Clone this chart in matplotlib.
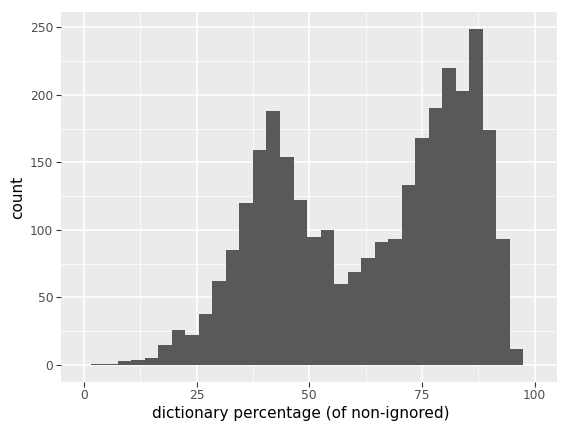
import matplotlib
matplotlib.use("Agg")
import matplotlib.pyplot as plt
from matplotlib.ticker import MultipleLocator

# Histogram data
bin_start = 1.5
bin_width = 3.0
counts = [1, 1, 3, 4, 5, 15, 26, 22, 38, 62, 85, 120, 159, 188, 154, 122,
          95, 100, 60, 69, 79, 91, 93, 133, 168, 190, 220, 203, 249, 174, 93, 12]
x_ticks = [0, 25, 50, 75, 100]
y_ticks = [0, 50, 100, 150, 200, 250]

fig = plt.figure(figsize=(5.7, 4.33), dpi=100)
ax = fig.add_axes([61/570, 1 - 381.7/433, (556.7-61)/570, (381.7-12.3)/433])
ax.set_facecolor("#EBEBEB")
for s in ax.spines.values():
    s.set_visible(False)

lefts = [bin_start + i * bin_width for i in range(len(counts))]
ax.bar(lefts, counts, width=bin_width, align="edge", color="#595959", linewidth=0, zorder=3)

ax.set_xlim(-5.1, 104.9)
ax.set_ylim(-12.4, 261.1)
ax.set_xticks(x_ticks)
ax.set_yticks(y_ticks)
ax.xaxis.set_minor_locator(MultipleLocator(12.5))
ax.yaxis.set_minor_locator(MultipleLocator(25))
ax.grid(which="major", color="white", linewidth=1.1, zorder=0)
ax.grid(which="minor", color="white", linewidth=0.55, zorder=0)
ax.set_axisbelow(True)
ax.tick_params(which="major", length=3.5, width=0.8, color="#333333", labelcolor="#4D4D4D", labelsize=8.8, pad=2)
ax.tick_params(which="minor", length=0)

ax.set_xlabel("dictionary percentage (of non-ignored)", fontsize=11, color="black")
ax.set_ylabel("count", fontsize=11, color="black")
ax.xaxis.set_label_coords(0.484, -0.066)
ax.yaxis.set_label_coords(-0.0877, 0.5)
ax.yaxis.label.set_va("center")

fig.savefig("out.png", dpi=100)
